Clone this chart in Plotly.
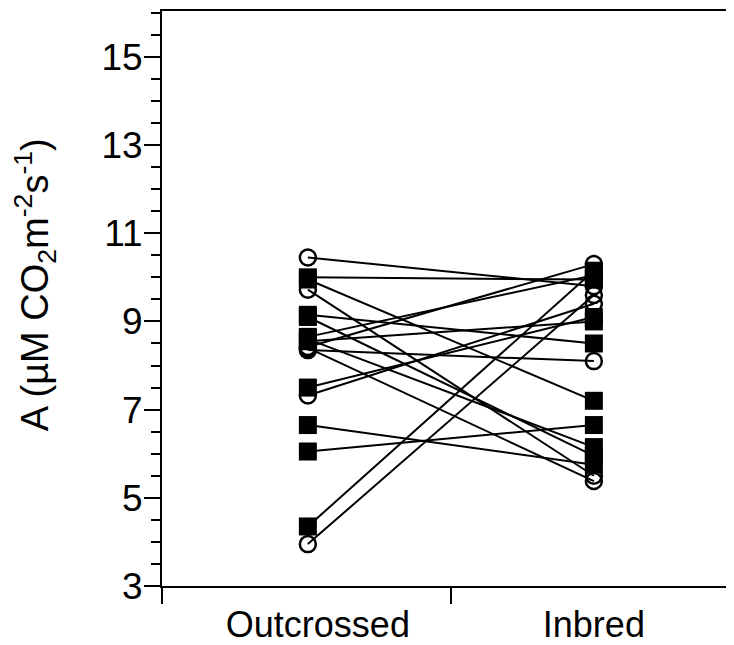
import plotly.graph_objects as go

groups = ["Outcrossed", "Inbred"]

# paired family means: filled squares
sq_outcrossed = [10.0, 9.95, 9.15, 9.1, 8.65, 8.6, 8.55, 7.5, 6.65, 6.05, 4.35]
sq_inbred     = [9.95, 7.2, 8.5, 5.95, 10.05, 6.15, 9.0, 9.1, 5.75, 6.65, 10.15]

# paired family means: open circles
ci_outcrossed = [10.45, 9.72, 8.42, 8.4, 8.35, 7.32, 3.95]
ci_inbred     = [9.8, 5.5, 10.3, 5.38, 8.1, 9.4, 9.6]

y_ticks = [3, 5, 7, 9, 11, 13, 15]

FONT = "Liberation Sans, Arial, sans-serif"

xpos = {groups[0]: 1, groups[1]: 2}

fig = go.Figure()

# connecting lines
lx, ly = [], []
for a, b in list(zip(sq_outcrossed, sq_inbred)) + list(zip(ci_outcrossed, ci_inbred)):
    lx += [xpos[groups[0]], xpos[groups[1]], None]
    ly += [a, b, None]
fig.add_trace(go.Scatter(x=lx, y=ly, mode="lines",
                         line=dict(color="black", width=2),
                         hoverinfo="skip", showlegend=False))

# open circles
fig.add_trace(go.Scatter(
    x=[xpos[groups[0]]] * len(ci_outcrossed) + [xpos[groups[1]]] * len(ci_inbred),
    y=ci_outcrossed + ci_inbred, mode="markers",
    marker=dict(symbol="circle-open", size=16, color="black", line=dict(width=2.5)),
    showlegend=False))

# filled squares
fig.add_trace(go.Scatter(
    x=[xpos[groups[0]]] * len(sq_outcrossed) + [xpos[groups[1]]] * len(sq_inbred),
    y=sq_outcrossed + sq_inbred, mode="markers",
    marker=dict(symbol="square", size=18, color="black", line=dict(width=0)),
    showlegend=False))

fig.update_layout(
    width=726, height=637,
    margin=dict(l=154, r=0, t=3, b=59),
    paper_bgcolor="white", plot_bgcolor="white",
    font=dict(family=FONT, color="black", size=36),
    xaxis=dict(
        range=[0.49, 2.49], automargin=False,
        tickmode="array", tickvals=[1.035, 2.0], ticktext=groups,
        ticks="outside", ticklen=6, tickcolor="rgba(0,0,0,0)",
        minor=dict(tickmode="array", tickvals=[0.49, 1.5], ticks="outside",
                   ticklen=16, tickwidth=2, tickcolor="black"),
        showline=True, linecolor="black", linewidth=2, mirror=True,
        showgrid=False, zeroline=False,
        tickfont=dict(size=36, family=FONT),
    ),
    yaxis=dict(
        range=[3, 16.04], automargin=False,
        tickmode="array", tickvals=y_ticks,
        ticks="outside", ticklen=16, tickwidth=2, tickcolor="black",
        ticklabelstandoff=-6,
        minor=dict(dtick=0.5, tick0=3, ticks="outside", ticklen=9, tickwidth=2,
                   tickcolor="black", showgrid=False),
        showline=True, linecolor="black", linewidth=2,
        showgrid=False, zeroline=False,
        tickfont=dict(size=37, family=FONT),
    ),
    annotations=[dict(
        text="A (µM CO<sub>2</sub>m<sup>-2</sup>s<sup>-1</sup>)",
        xref="paper", yref="paper", x=-0.222, y=0.523,
        xanchor="center", yanchor="middle", textangle=-90, showarrow=False,
        font=dict(size=38, family=FONT, color="black"))],
)

fig.write_html("out.html")
